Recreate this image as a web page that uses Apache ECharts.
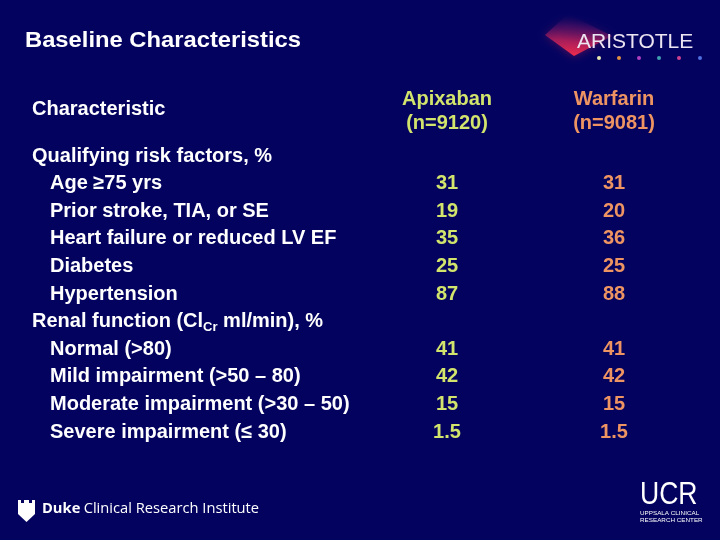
<!DOCTYPE html>
<html>
<head>
<meta charset="utf-8">
<script src="https://cdn.jsdelivr.net/npm/echarts@6/dist/echarts.min.js"></script>
<style>html,body{margin:0;padding:0;background:#03035f;}#c{width:720px;height:540px;}</style>
</head>
<body>
<div id="c"></div>
<script>
const titleText = 'Baseline Characteristics';
const headerLabel = 'Characteristic';
const columns = ['', 'Apixaban\n(n=9120)', 'Warfarin\n(n=9081)'];
const qualifyingHeader = 'Qualifying risk factors, %';
const qualifyingItems = ['Age \u226575 yrs', 'Prior stroke, TIA, or SE', 'Heart failure or reduced LV EF', 'Diabetes', 'Hypertension'];
const renalHeader = 'Renal function (ClCr ml/min), %';
const renalItems = ['Normal (>80)', 'Mild impairment (>50 \u2013 80)', 'Moderate impairment (>30 \u2013 50)', 'Severe impairment (\u2264 30)'];
const apixabanQualifying = [31, 19, 35, 25, 87];
const warfarinQualifying = [31, 20, 36, 25, 88];
const apixabanRenal = [41, 42, 15, 1.5];
const warfarinRenal = [41, 42, 15, 1.5];

const rows = [qualifyingHeader].concat(qualifyingItems, [renalHeader], renalItems);
const headerSet = new Set([qualifyingHeader, renalHeader]);
const apixaban = [null].concat(apixabanQualifying, [null], apixabanRenal);
const warfarin = [null].concat(warfarinQualifying, [null], warfarinRenal);

const FONT = '"Liberation Sans", Arial, sans-serif';
const WHITE = '#ffffff';
const APIX = '#d2e46c';
const WARF = '#ee9462';
const FS = 20;

function cells(vals, col) {
  const out = [];
  vals.forEach((v, i) => { if (v != null) out.push([col, i, v]); });
  return out;
}

const chart = echarts.init(document.getElementById('c'), null, {renderer: 'canvas'});
const option = {
  backgroundColor: '#03035f',
  animation: false,
  grid: {left: 196.5, right: 22.5, top: 142.2, height: 303.6},
  xAxis: {
    type: 'category', data: columns, position: 'top',
    axisLine: {show: false}, axisTick: {show: false}, splitLine: {show: false},
    axisLabel: {
      interval: 0, margin: 7,
      formatter: function (v, i) {
        if (i === 0) return '';
        return v.split('\n').map(s => '{c' + i + '|' + s + '}').join('\n');
      },
      rich: {
        c1: {color: APIX, fontSize: FS, fontWeight: 'bold', fontFamily: FONT, lineHeight: 24},
        c2: {color: WARF, fontSize: FS, fontWeight: 'bold', fontFamily: FONT, lineHeight: 24}
      }
    }
  },
  yAxis: {
    type: 'category', data: rows, inverse: true,
    axisLine: {show: false}, axisTick: {show: false}, splitLine: {show: false},
    axisLabel: {
      interval: 0, align: 'left', margin: 164.5,
      formatter: function (v) {
        if (v === renalHeader) return '{h|Renal function (Cl}{sub|Cr}{h| ml/min), %}';
        if (headerSet.has(v)) return '{h|' + v + '}';
        return '{s|' + v + '}';
      },
      rich: {
        h: {color: WHITE, fontSize: FS, fontWeight: 'bold', fontFamily: FONT, lineHeight: 24},
        s: {color: WHITE, fontSize: FS, fontWeight: 'bold', fontFamily: FONT, lineHeight: 24, padding: [0, 0, 0, 18]},
        sub: {color: WHITE, fontSize: 13, fontWeight: 'bold', fontFamily: FONT, lineHeight: 10, verticalAlign: 'bottom'}
      }
    }
  },
  series: [
    {
      type: 'scatter', name: 'Apixaban', data: cells(apixaban, 1), symbolSize: 1,
      itemStyle: {color: 'rgba(0,0,0,0)', opacity: 1},
      label: {show: true, position: 'inside', opacity: 1, formatter: p => String(p.value[2]), color: APIX, fontSize: FS, fontWeight: 'bold', fontFamily: FONT}
    },
    {
      type: 'scatter', name: 'Warfarin', data: cells(warfarin, 2), symbolSize: 1,
      itemStyle: {color: 'rgba(0,0,0,0)', opacity: 1},
      label: {show: true, position: 'inside', opacity: 1, formatter: p => String(p.value[2]), color: WARF, fontSize: FS, fontWeight: 'bold', fontFamily: FONT}
    }
  ],
  graphic: [
    {type: 'text', x: 25, y: 30, scaleX: 1.08, style: {text: titleText, fill: WHITE, font: 'bold 22px ' + FONT}},
    {type: 'text', left: 32, top: 99, style: {text: headerLabel, fill: WHITE, font: 'bold ' + FS + 'px ' + FONT}},
    // ARISTOTLE logo glow
    {type: 'polygon', shape: {points: [[545, 35], [568, 14], [612, 36], [574, 56]]},
      style: {fill: new echarts.graphic.LinearGradient(0.4, 1, 0.45, 0, [
        {offset: 0, color: 'rgba(245,45,75,1)'},
        {offset: 0.35, color: 'rgba(200,35,90,0.75)'},
        {offset: 0.75, color: 'rgba(90,20,110,0.3)'},
        {offset: 1, color: 'rgba(3,3,95,0)'}]),
        shadowBlur: 8, shadowColor: 'rgba(200,30,80,0.5)'}},
    {type: 'text', x: 577, y: 32, style: {text: 'ARISTOTLE', fill: '#ece4f0', font: '21px "Liberation Sans", sans-serif'}},
    {type: 'circle', shape: {cx: 599, cy: 58, r: 2}, style: {fill: '#e8e8b0'}},
    {type: 'circle', shape: {cx: 619, cy: 58, r: 2}, style: {fill: '#e09040'}},
    {type: 'circle', shape: {cx: 639, cy: 58, r: 2}, style: {fill: '#b040c0'}},
    {type: 'circle', shape: {cx: 659, cy: 58, r: 2}, style: {fill: '#40a0b0'}},
    {type: 'circle', shape: {cx: 679, cy: 58, r: 2}, style: {fill: '#d04090'}},
    {type: 'circle', shape: {cx: 700, cy: 58, r: 2}, style: {fill: '#5070e0'}},
    // Duke logo
    {type: 'polygon', shape: {points: [[18, 500], [21, 500], [21, 503], [24, 503], [24, 500], [29, 500], [29, 503], [32, 503], [32, 500], [35, 500], [35, 514], [26.5, 522], [18, 514]]},
      style: {fill: WHITE}},
    {type: 'text', left: 42, top: 501, style: {text: '{b|Duke} {n|Clinical Research Institute}', rich: {
      b: {fill: WHITE, font: 'bold 14.7px "Open Sans", sans-serif'},
      n: {fill: WHITE, font: '14.7px "Open Sans", sans-serif'}}}},
    // UCR logo
    {type: 'text', x: 640, y: 479, scaleX: 0.83, style: {text: 'UCR', fill: WHITE, font: '32px "Liberation Sans", sans-serif'}},
    {type: 'text', x: 640, y: 510, scaleX: 1.05, style: {text: 'UPPSALA CLINICAL', fill: WHITE, font: '6px "Liberation Sans", sans-serif'}},
    {type: 'text', x: 640, y: 517, scaleX: 1.05, style: {text: 'RESEARCH CENTER', fill: WHITE, font: '6px "Liberation Sans", sans-serif'}}
  ]
};
chart.setOption(option);
</script>
</body>
</html>
